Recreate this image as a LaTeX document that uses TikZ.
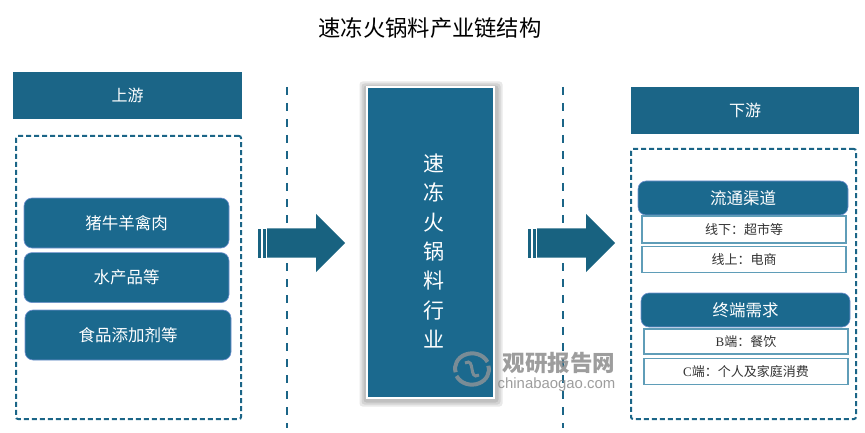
\documentclass[tikz,border=0pt]{standalone}
\usepackage{fontspec}
\setmainfont{Noto Sans CJK SC}
\newfontfamily\latinfont{Liberation Serif}
\newfontfamily\markfont{Liberation Sans}
\usetikzlibrary{positioning,shapes.arrows}
\definecolor{mainblue}{HTML}{1B698E}
\definecolor{headblue}{HTML}{1B6587}
\definecolor{arrowblue}{HTML}{186280}
\definecolor{edgeblue}{HTML}{5F9DB8}
\definecolor{darktext}{HTML}{333333}
\newcommand{\fs}[1]{\fontsize{#1}{#1}\selectfont}
\tikzset{
    headbox/.style={fill=headblue, text=white, minimum width=229pt, minimum height=47pt, inner sep=0pt, font=\fs{16}},
    dashbox/.style={draw=headblue, line width=2pt, dash pattern=on 5pt off 3pt, rounded corners=2pt, inner sep=0pt},
    pill/.style={fill=mainblue, draw=mainblue!70!blue!60!white, line width=0.6pt, text=white, rounded corners=8pt, inner sep=0pt, font=\fs{16.5}},
    subbox/.style={draw=edgeblue, line width=1.2pt, fill=white, text=darktext, minimum width=204pt, inner sep=0pt, font=\fs{13}},
    midline/.style={draw=headblue, line width=2.5pt, dash pattern=on 8pt off 8pt},
    blockarrow/.style={single arrow, fill=arrowblue, minimum height=78pt, minimum width=58pt, single arrow head extend=14.5pt, inner xsep=0pt, inner ysep=14.5pt, anchor=west},
    stripe/.style={fill=arrowblue, minimum height=29pt, inner sep=0pt},
    shadowbox/.style={fill=black, opacity=0.09, rounded corners=3pt, inner sep=0pt},
    cenbox/.style={fill=mainblue, draw=white, line width=2pt, minimum width=127pt, minimum height=311pt, inner sep=0pt},
    watermark/.style={text=black!45, opacity=0.85, inner sep=0pt},
    logoarc/.style={draw=black!40, opacity=0.75, line width=4pt}
}
\begin{document}
\begin{tikzpicture}[x=1pt, y=-1pt]
    \useasboundingbox (0,0) rectangle (865,433);

    \node[font=\fs{22.3}, text=black, inner sep=0pt] (title) at (430,28) {速冻火锅料产业链结构};

    % left column
    \node[headbox] (up) at (127.5,95.5) {上游};
    \node[dashbox, minimum width=225pt, minimum height=283pt] (upframe) at (128.5,277.5) {};
    \node[pill, minimum width=205pt, minimum height=50pt] (meat) at (126.5,223) {猪牛羊禽肉};
    \node[pill, minimum width=205pt, minimum height=50pt] (fish) [below=4pt of meat] {水产品等};
    \node[pill, minimum width=206pt, minimum height=50pt] (additive) at (128,335) {食品添加剂等};

    % dividers
    \coordinate (lineatop) at (287,87);
    \coordinate (lineabot) at (287,428);
    \coordinate (linebtop) at (563,87);
    \coordinate (linebbot) at (563,428);
    \draw[midline] (lineatop) -- (lineabot);
    \draw[midline] (linebtop) -- (linebbot);

    % arrows
    \node[blockarrow] (arrowa) at (267,243) {};
    \node[stripe, minimum width=2.5pt] (stripea) at (259.5,243) {};
    \node[stripe, minimum width=3pt] (stripeb) at (264,243) {};
    \node[blockarrow] (arrowb) at (537,243) {};
    \node[stripe, minimum width=2.5pt] (stripec) at (529.5,243) {};
    \node[stripe, minimum width=3pt] (striped) at (534,243) {};

    % center
    \node[shadowbox, minimum width=143pt, minimum height=325pt] (shadowa) at (431,244) {};
    \node[shadowbox, minimum width=139pt, minimum height=321pt] (shadowb) at (431,244) {};
    \node[shadowbox, minimum width=135pt, minimum height=317pt] (shadowc) at (431,244) {};
    \node[cenbox] (center) at (430.5,242.5) {};
    \node[text=white, font=\fs{21}, align=center, inner sep=0pt] (centertext) at (434,251) {速\\[8.3pt]冻\\[8.3pt]火\\[8.3pt]锅\\[8.3pt]料\\[8.3pt]行\\[8.3pt]业};

    % right column
    \node[headbox, minimum width=228pt] (down) at (745,110.5) {下游};
    \node[dashbox, minimum width=225pt, minimum height=270pt] (downframe) at (743.5,284) {};
    \node[pill, minimum width=210pt, minimum height=34pt] (channel) at (743,198) {流通渠道};
    \node[subbox, minimum height=27pt] (offline) at (744,229.5) {线下：超市等};
    \node[subbox, minimum height=26.5pt] (online) [below=2pt of offline] {线上：电商};
    \node[pill, minimum width=209pt, minimum height=34pt] (demand) at (745.5,310) {终端需求};
    \node[subbox, minimum height=25pt] (bend) at (746,341.5) {{\latinfont B}端：餐饮};
    \node[subbox, minimum height=26pt] (cend) [below=3pt of bend] {{\latinfont C}端：个人及家庭消费};

    % watermark
    \node[watermark, font=\bfseries\fs{22.5}] (marktext) at (559,363) {观研报告网};
    \node[watermark, font=\markfont\fs{14.9}] (markurl) at (556.5,385) {chinabaogao.com};
    \coordinate (marklogo) at (472,369);
    \draw[logoarc] (marklogo) ++(15.5,-7) arc[start angle=25, end angle=195, x radius=17pt, y radius=15pt];
    \draw[logoarc] (marklogo) ++(-15.5,7) arc[start angle=205, end angle=375, x radius=17pt, y radius=15pt];
    \draw[logoarc, line width=3pt] (marklogo) ++(-7,-6) .. controls +(11,-6) and +(-11,6) .. ++(14,12);
\end{tikzpicture}
\end{document}
